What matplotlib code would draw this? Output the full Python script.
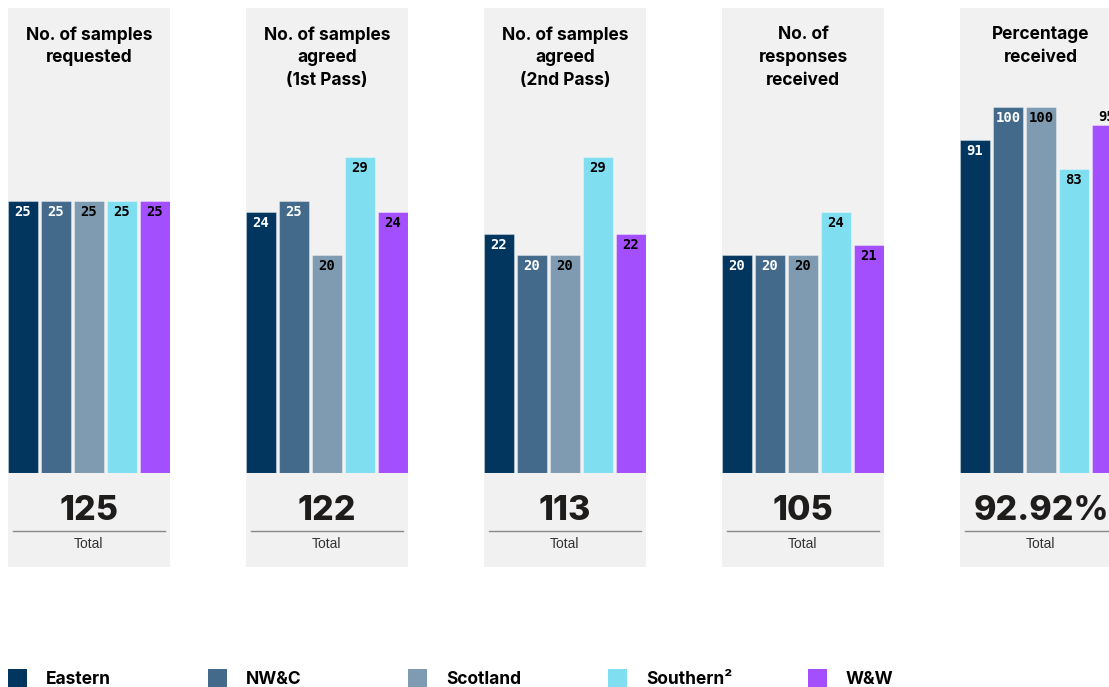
import matplotlib
matplotlib.use("Agg")
import matplotlib.pyplot as plt
from matplotlib.patches import Rectangle
from matplotlib.lines import Line2D

# Regions and their colours
categories = ["Eastern", "NW&C", "Scotland", "Southern²", "W&W"]
colors = ["#02365f", "#436a8b", "#7e9bb1", "#80def1", "#a44ffe"]
label_colors = ["white", "white", "black", "black", "black"]

# Panel titles and values
titles = [
    "No. of samples\nrequested",
    "No. of samples\nagreed\n(1st Pass)",
    "No. of samples\nagreed\n(2nd Pass)",
    "No. of\nresponses\nreceived",
    "Percentage\nreceived",
]
requested = [25, 25, 25, 25, 25]
agreed_1st = [24, 25, 20, 29, 24]
agreed_2nd = [22, 20, 20, 29, 22]
responses = [20, 20, 20, 24, 21]
percentage = [91, 100, 100, 83, 95]
series = [requested, agreed_1st, agreed_2nd, responses, percentage]
totals = ["125", "122", "113", "105", "92.92%"]

W, H = 1109, 687
fig = plt.figure(figsize=(W / 100, H / 100), dpi=100)
fig.patch.set_facecolor("white")


def fx(px):
    return px / W


def fy(py):
    return 1 - py / H


panel_w = 162
panel_top, panel_bottom = 8, 567
baseline = 473
lefts = [8 + 238 * i for i in range(5)]
# vertical extent (data units) of the bar area per panel
ymax = [465 / 10.88] * 4 + [465 / 3.66]

for k, left in enumerate(lefts):
    # grey card behind each panel
    fig.patches.append(Rectangle((fx(left), fy(panel_bottom)), fx(panel_w),
                                 (panel_bottom - panel_top) / H,
                                 transform=fig.transFigure, facecolor="#f1f1f1",
                                 edgecolor="none", zorder=-5))
    ax = fig.add_axes([fx(left), fy(baseline), fx(panel_w), (baseline - panel_top) / H])
    ax.set_facecolor("none")
    ax.set_zorder(2)
    vals = series[k]
    xs = list(range(len(vals)))
    ax.bar(xs, vals, width=30 / 33, color=colors, edgecolor=(1, 1, 1, 0.35),
           linewidth=0.8)
    ax.set_xlim(-15 / 33, 4 + 15 / 33)
    ax.set_ylim(0, ymax[k])
    ax.axis("off")
    for i, v in enumerate(vals):
        if k == 4 and i == 4:
            ax.annotate(str(v), (i, v), xytext=(0, 1), textcoords="offset pixels",
                        ha="center", va="bottom", fontsize=10, fontweight="bold",
                        family="DejaVu Sans Mono", color="black", annotation_clip=False)
        else:
            ax.annotate(str(v), (i, v), xytext=(0, -11), textcoords="offset pixels",
                        ha="center", va="center", fontsize=10, fontweight="bold",
                        family="DejaVu Sans Mono", color=label_colors[i])

    cx = left + panel_w / 2
    fig.text(fx(cx), fy(26), titles[k], ha="center", va="top", fontsize=12.5,
             fontweight="bold", family="Inter", linespacing=1.45, color="black")
    fig.text(fx(cx), fy(511), totals[k], ha="center", va="center", fontsize=24.5,
             fontweight="heavy", family="Inter", color="#1f1c1c")
    fig.add_artist(Line2D([fx(left + 5), fx(left + panel_w - 5)], [fy(531), fy(531)],
                          transform=fig.transFigure, color="#888888", linewidth=1))
    fig.text(fx(cx), fy(544), "Total", ha="center", va="center", fontsize=10,
             family="Liberation Sans", color="#333333")

# legend row
for i, name in enumerate(categories):
    x0 = 8 + 200 * i
    fig.patches.append(Rectangle((fx(x0), fy(688)), fx(19), 19 / H,
                                 transform=fig.transFigure, facecolor=colors[i],
                                 edgecolor="none"))
    fig.text(fx(x0 + 38), fy(679), name, ha="left", va="center", fontsize=12.5,
             fontweight="bold", family="Inter", color="black")

fig.savefig("out.png", dpi=100)
